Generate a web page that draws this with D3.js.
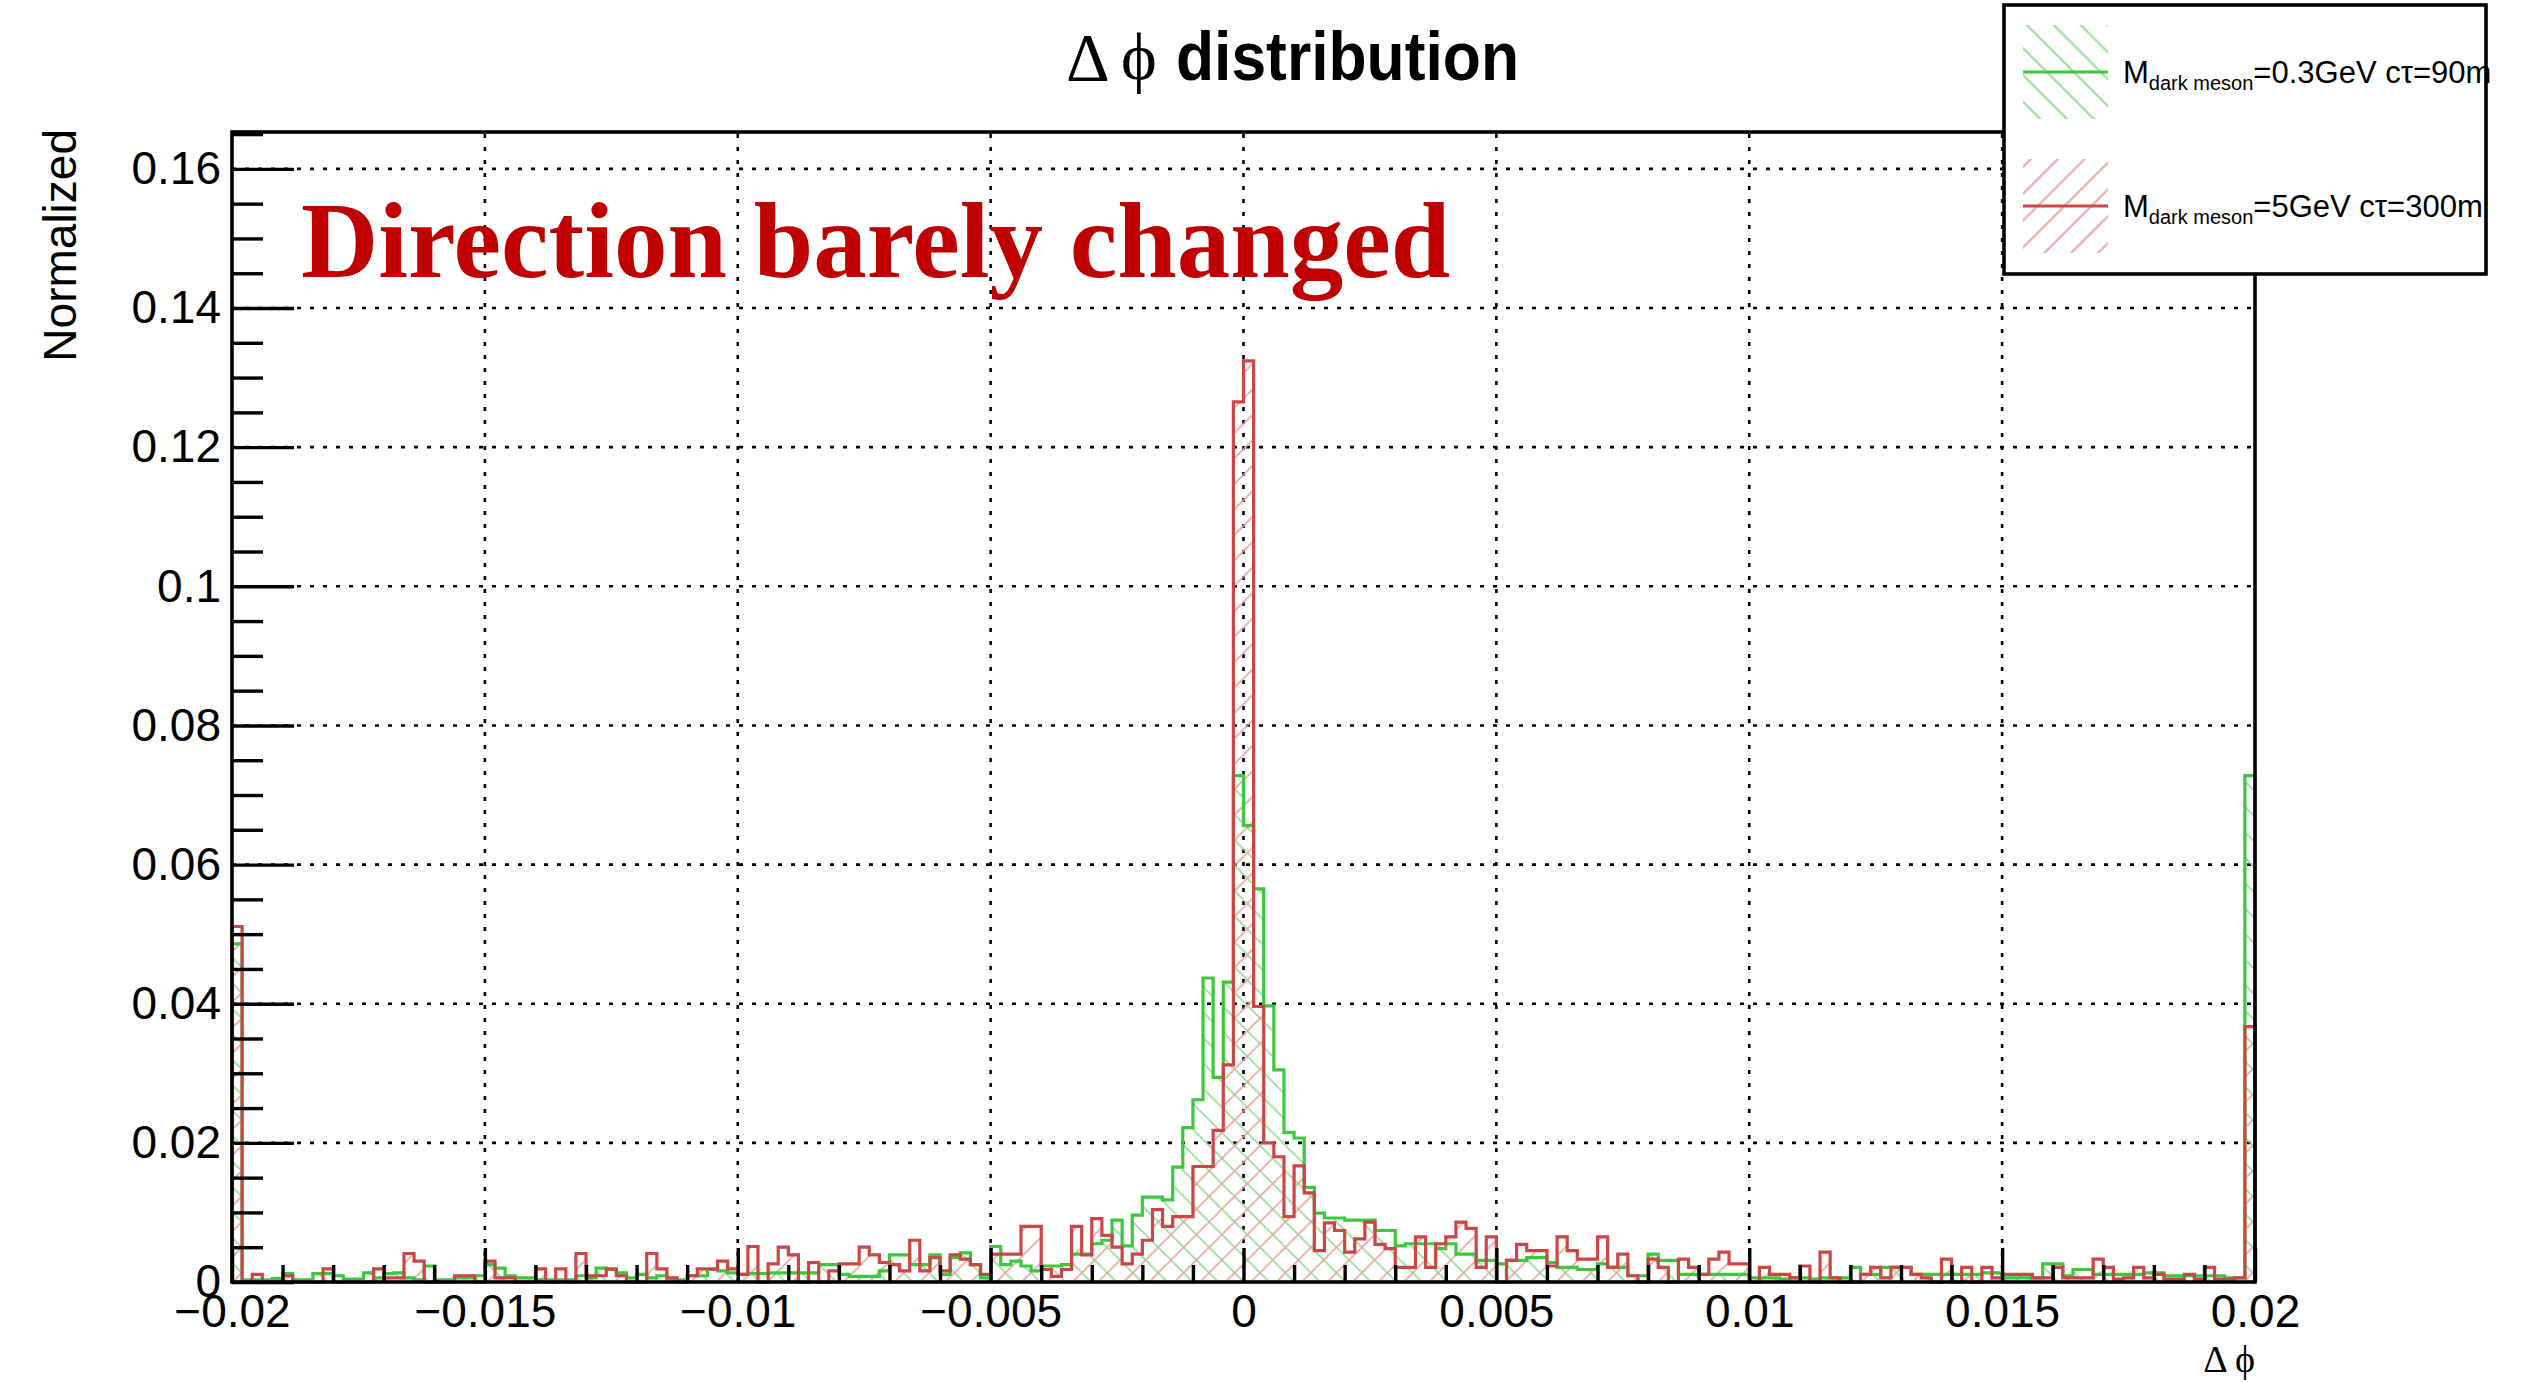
<!DOCTYPE html>
<html><head><meta charset="utf-8">
<script src="https://cdn.jsdelivr.net/npm/d3@7"></script>
<style>html,body{margin:0;padding:0;background:#fff;overflow:hidden}</style>
</head><body>
<svg id="chart" width="2526" height="1382" xmlns="http://www.w3.org/2000/svg"></svg>
<script>
// ---------------- data ----------------
const binLow = -0.02, binHigh = 0.02, nBins = 200;
const greenValues = [
0.0486,0.0003,0.0003,0.0003,0.0005,0.0012,0.0003,0.0003,0.0012,0.0012,
0.0009,0.0004,0.0004,0.0013,0.0006,0.0012,0.0013,0.0006,0.0003,0.0023,
0.0003,0.0003,0.0006,0.0006,0.0009,0.0025,0.0020,0.0009,0.0006,0.0006,
0.0003,0.0003,0.0003,0.0003,0.0009,0.0006,0.0020,0.0018,0.0013,0.0006,
0.0011,0.0006,0.0009,0.0003,0.0003,0.0009,0.0009,0.0018,0.0016,0.0013,
0.0011,0.0012,0.0012,0.0013,0.0013,0.0013,0.0013,0.0013,0.0025,0.0025,
0.0011,0.0008,0.0008,0.0008,0.0016,0.0039,0.0039,0.0025,0.0025,0.0039,
0.0011,0.0035,0.0042,0.0025,0.0006,0.0051,0.0025,0.0030,0.0023,0.0016,
0.0023,0.0023,0.0025,0.0040,0.0040,0.0055,0.0060,0.0089,0.0052,0.0096,
0.0122,0.0122,0.0118,0.0165,0.0222,0.0262,0.0437,0.0294,0.0431,0.0728,
0.0656,0.0565,0.0397,0.0305,0.0215,0.0207,0.0136,0.0099,0.0092,0.0092,
0.0089,0.0089,0.0089,0.0074,0.0074,0.0052,0.0055,0.0055,0.0055,0.0048,
0.0055,0.0040,0.0040,0.0031,0.0031,0.0026,0.0031,0.0031,0.0035,0.0035,
0.0028,0.0021,0.0021,0.0018,0.0018,0.0026,0.0021,0.0021,0.0009,0.0009,
0.0040,0.0031,0.0031,0.0011,0.0011,0.0011,0.0011,0.0011,0.0011,0.0011,
0.0006,0.0006,0.0006,0.0004,0.0006,0.0006,0.0004,0.0006,0.0006,0.0006,
0.0021,0.0011,0.0011,0.0021,0.0021,0.0021,0.0011,0.0011,0.0011,0.0011,
0.0011,0.0011,0.0011,0.0013,0.0013,0.0006,0.0006,0.0006,0.0006,0.0026,
0.0026,0.0009,0.0018,0.0018,0.0011,0.0011,0.0011,0.0011,0.0011,0.0013,
0.0013,0.0009,0.0009,0.0009,0.0009,0.0009,0.0009,0.0006,0.0006,0.0728
];
const redValues = [
0.0511,0.0000,0.0011,0.0000,0.0000,0.0009,0.0000,0.0000,0.0000,0.0019,
0.0000,0.0000,0.0000,0.0000,0.0019,0.0006,0.0006,0.0041,0.0030,0.0000,
0.0000,0.0000,0.0009,0.0009,0.0000,0.0030,0.0006,0.0006,0.0000,0.0000,
0.0019,0.0000,0.0019,0.0000,0.0041,0.0009,0.0009,0.0019,0.0009,0.0000,
0.0000,0.0041,0.0019,0.0006,0.0000,0.0009,0.0019,0.0019,0.0030,0.0019,
0.0011,0.0051,0.0000,0.0026,0.0050,0.0039,0.0000,0.0028,0.0000,0.0016,
0.0026,0.0026,0.0050,0.0039,0.0028,0.0025,0.0016,0.0060,0.0016,0.0035,
0.0016,0.0039,0.0033,0.0025,0.0011,0.0040,0.0040,0.0040,0.0080,0.0080,
0.0018,0.0008,0.0018,0.0080,0.0039,0.0091,0.0067,0.0050,0.0026,0.0040,
0.0060,0.0104,0.0080,0.0094,0.0094,0.0166,0.0166,0.0218,0.0312,0.1265,
0.1324,0.0396,0.0200,0.0180,0.0094,0.0167,0.0128,0.0045,0.0085,0.0074,
0.0043,0.0062,0.0086,0.0054,0.0048,0.0021,0.0021,0.0065,0.0021,0.0055,
0.0065,0.0086,0.0077,0.0021,0.0065,0.0000,0.0031,0.0054,0.0045,0.0045,
0.0023,0.0065,0.0045,0.0033,0.0033,0.0065,0.0021,0.0040,0.0009,0.0000,
0.0033,0.0021,0.0000,0.0033,0.0021,0.0011,0.0033,0.0043,0.0026,0.0026,
0.0000,0.0021,0.0011,0.0011,0.0006,0.0023,0.0000,0.0043,0.0006,0.0000,
0.0000,0.0011,0.0021,0.0006,0.0021,0.0021,0.0011,0.0006,0.0000,0.0033,
0.0000,0.0021,0.0000,0.0021,0.0006,0.0011,0.0011,0.0011,0.0006,0.0006,
0.0021,0.0006,0.0006,0.0006,0.0033,0.0021,0.0004,0.0006,0.0021,0.0006,
0.0011,0.0004,0.0004,0.0011,0.0004,0.0021,0.0004,0.0004,0.0006,0.0367
];
const xMajorTicks = [-0.02,-0.015,-0.01,-0.005,0,0.005,0.01,0.015,0.02];
const xTickLabels = ["\u22120.02","\u22120.015","\u22120.01","\u22120.005","0","0.005","0.01","0.015","0.02"];
const yMajorTicks = [0,0.02,0.04,0.06,0.08,0.1,0.12,0.14,0.16];
const yTickLabels = ["0","0.02","0.04","0.06","0.08","0.1","0.12","0.14","0.16"];
const yMax = 0.1653;
const legendNames = ["=0.3GeV c\u03c4=90m","=5GeV c\u03c4=300m"];
const legendMass = "M";
const legendSub = "dark meson";
const titleText = "distribution";
const noteText = "Direction barely changed";

// ---------------- layout ----------------
const svg = d3.select("#chart");
const L = 232, R = 2255, T = 132, B = 1282;
const x = d3.scaleLinear().domain([binLow, binHigh]).range([L, R]);
const y = d3.scaleLinear().domain([0, yMax]).range([B, T]);
const GREEN = "#3cc83c", RED = "#cc4646";
const sans = "'Liberation Sans', Arial, Helvetica, sans-serif";
const serif = "'Liberation Serif', 'DejaVu Serif', 'Times New Roman', serif";

const defs = svg.append("defs");
function hatch(id, color, angle, w, sw) {
  const p = defs.append("pattern").attr("id", id).attr("patternUnits", "userSpaceOnUse")
    .attr("width", w).attr("height", w).attr("patternTransform", `rotate(${angle})`);
  p.append("line").attr("x1", w/2).attr("y1", 0).attr("x2", w/2).attr("y2", w)
    .attr("stroke", color).attr("stroke-width", sw);
}
hatch("hg", "#8fdc8f", -45, 18, 1.6);
hatch("hr", "#eba0a0", 45, 18, 1.6);
hatch("hgL", "#8fdc8f", -45, 19, 2);
hatch("hrL", "#eba0a0", 45, 19, 2);

svg.append("rect").attr("width", 2526).attr("height", 1382).attr("fill", "#fff");

// grid
const gGrid = svg.append("g").attr("stroke", "#000").attr("stroke-width", 2.6)
  .attr("stroke-dasharray", "4,9").attr("fill", "none");
xMajorTicks.filter(v => v > binLow && v < binHigh).forEach(v => {
  gGrid.append("line").attr("x1", x(v)).attr("x2", x(v)).attr("y1", B).attr("y2", T);
});
yMajorTicks.filter(v => v > 0).forEach(v => {
  gGrid.append("line").attr("x1", L).attr("x2", R).attr("y1", y(v)).attr("y2", y(v));
});

// histograms
const edges = d3.range(nBins + 1).map(i => binLow + i * (binHigh - binLow) / nBins);
function stepPoints(vals) {
  const pts = [[edges[0], 0]];
  vals.forEach((v, i) => { pts.push([edges[i], v]); pts.push([edges[i + 1], v]); });
  pts.push([edges[nBins], 0]);
  return pts;
}
const line = d3.line().x(d => x(d[0])).y(d => y(d[1]));
const area = d3.area().x(d => x(d[0])).y0(y(0)).y1(d => y(d[1]));
const series = [
  {vals: greenValues, color: GREEN, fill: "url(#hg)"},
  {vals: redValues, color: RED, fill: "url(#hr)"}
];
series.forEach(s => {
  svg.append("path").attr("d", area(stepPoints(s.vals))).attr("fill", s.fill).attr("stroke", "none");
});
series.forEach(s => {
  svg.append("path").attr("d", line(stepPoints(s.vals))).attr("fill", "none")
    .attr("stroke", s.color).attr("stroke-width", 3.2).attr("stroke-linejoin", "miter");
});

// axes
const xMinor = d3.range(-20, 21).map(i => i * 0.001).filter(v => !xMajorTicks.some(m => Math.abs(m - v) < 1e-9));
const yMinor = d3.range(0, 34).map(i => i * 0.005).filter(v => v <= yMax && !yMajorTicks.some(m => Math.abs(m - v) < 1e-9));

const axX = svg.append("g").attr("transform", `translate(0,${B})`)
  .call(d3.axisBottom(x).tickValues(xMajorTicks).tickSize(-34).tickPadding(12)
    .tickFormat((d, i) => xTickLabels[i]));
const axXm = svg.append("g").attr("transform", `translate(0,${B})`)
  .call(d3.axisBottom(x).tickValues(xMinor).tickSize(-17).tickFormat(""));
const axY = svg.append("g").attr("transform", `translate(${L},0)`)
  .call(d3.axisLeft(y).tickValues(yMajorTicks).tickSize(-62).tickPadding(11)
    .tickFormat((d, i) => yTickLabels[i]));
const axYm = svg.append("g").attr("transform", `translate(${L},0)`)
  .call(d3.axisLeft(y).tickValues(yMinor).tickSize(-31).tickFormat(""));
[axX, axXm, axY, axYm].forEach(a => {
  a.select(".domain").remove();
  a.selectAll("line").attr("stroke", "#000").attr("stroke-width", 3.4);
  a.selectAll("text").attr("font-family", sans).attr("font-size", 46).attr("fill", "#000");
});

// frame
svg.append("rect").attr("x", L).attr("y", T).attr("width", R - L).attr("height", B - T)
  .attr("fill", "none").attr("stroke", "#000").attr("stroke-width", 3.6);

// titles
svg.append("text").attr("x", 1066).attr("y", 80).attr("font-family", serif).attr("font-size", 68)
  .text("\u0394");
svg.append("text").attr("x", 1121).attr("y", 80).attr("font-family", serif).attr("font-size", 68)
  .text("\u03d5");
svg.append("text").attr("x", 1176).attr("y", 80).attr("font-family", sans).attr("font-weight", "bold")
  .attr("font-size", 68).attr("textLength", 343).attr("lengthAdjust", "spacingAndGlyphs").text(titleText);

svg.append("text").attr("transform", "translate(76,129) rotate(-90)").attr("text-anchor", "end")
  .attr("font-family", sans).attr("font-size", 46).text("Normalized");

svg.append("text").attr("x", 2255).attr("y", 1372).attr("text-anchor", "end")
  .attr("font-family", serif).attr("font-size", 38).text("\u0394 \u03d5");

svg.append("text").attr("x", 301).attr("y", 277).attr("font-family", serif).attr("font-weight", "bold")
  .attr("font-size", 107).attr("fill", "#c00000").text(noteText);

// legend
const lg = svg.append("g");
lg.append("rect").attr("x", 2004).attr("y", 5).attr("width", 482).attr("height", 269)
  .attr("fill", "#fff").attr("stroke", "#000").attr("stroke-width", 3.6);
const entries = [
  {name: legendNames[0], color: GREEN, fill: "url(#hgL)", cy: 72},
  {name: legendNames[1], color: RED, fill: "url(#hrL)", cy: 206}
];
entries.forEach(e => {
  lg.append("rect").attr("x", 2023).attr("y", e.cy - 47).attr("width", 85).attr("height", 94)
    .attr("fill", e.fill);
  lg.append("line").attr("x1", 2023).attr("x2", 2108).attr("y1", e.cy).attr("y2", e.cy)
    .attr("stroke", e.color).attr("stroke-width", 3.2);
  const t = lg.append("text").attr("x", 2123).attr("y", e.cy + 10.5).attr("font-family", sans)
    .attr("font-size", 31);
  t.append("tspan").text(legendMass);
  t.append("tspan").attr("font-size", 20).attr("dy", 7).text(legendSub);
  t.append("tspan").attr("dy", -7).text(e.name);
});
</script>
</body></html>
